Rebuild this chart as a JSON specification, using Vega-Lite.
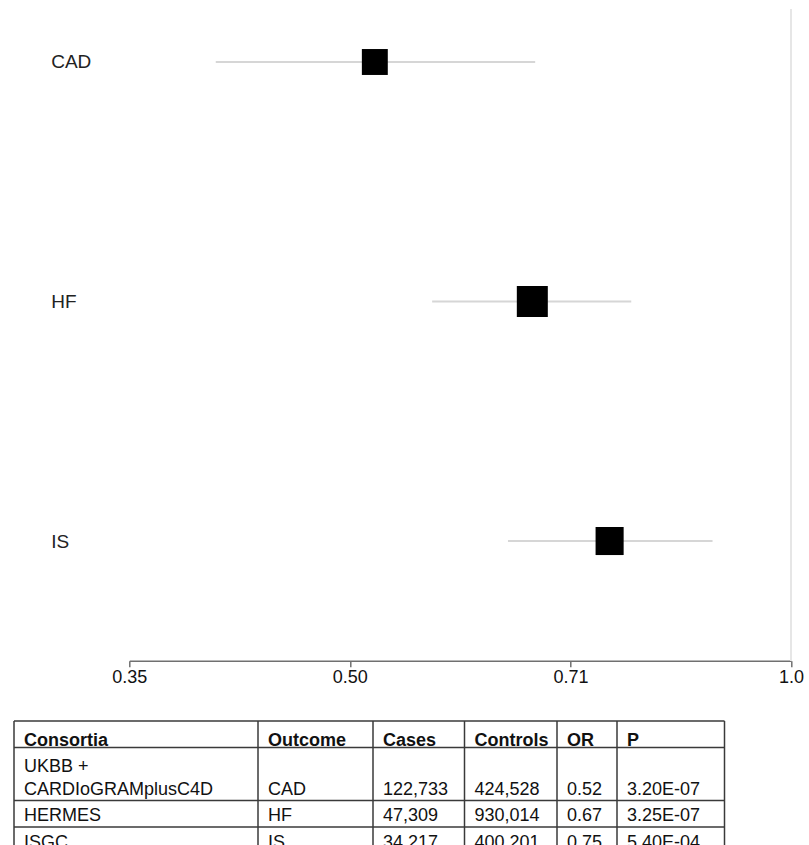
{
  "$schema": "https://vega.github.io/schema/vega-lite/v6.json",
  "width": 661.7,
  "height": 651.7,
  "autosize": {"type": "none"},
  "padding": {"left": 129.3, "top": 9, "right": 18, "bottom": 184.3},
  "background": "white",
  "config": {"view": {"stroke": null}, "font": "Liberation Sans", "text": {"font": "Liberation Sans"}},
  "datasets": {
    "results": [
      {"Outcome": "CAD", "OR": 0.520, "lo": 0.405, "hi": 0.669, "weight": 0.70},
      {"Outcome": "HF", "OR": 0.666, "lo": 0.569, "hi": 0.778, "weight": 1.0},
      {"Outcome": "IS", "OR": 0.752, "lo": 0.641, "hi": 0.884, "weight": 0.82}
    ],
    "table": [
      {"Consortia": "UKBB +\nCARDIoGRAMplusC4D", "Outcome": "CAD", "Cases": "122,733", "Controls": "424,528", "OR": "0.52", "P": "3.20E-07"},
      {"Consortia": "HERMES", "Outcome": "HF", "Cases": "47,309", "Controls": "930,014", "OR": "0.67", "P": "3.25E-07"},
      {"Consortia": "ISGC", "Outcome": "IS", "Cases": "34,217", "Controls": "400,201", "OR": "0.75", "P": "5.40E-04"}
    ],
    "columns": [
      {"column": "Consortia", "order": 0},
      {"column": "Outcome", "order": 1},
      {"column": "Cases", "order": 2},
      {"column": "Controls", "order": 3},
      {"column": "OR", "order": 4},
      {"column": "P", "order": 5},
      {"column": "", "order": 6}
    ],
    "rowlines": [{"row": "top"}, {"row": "header"}, {"row": "CAD"}, {"row": "HF"}, {"row": "IS"}]
  },
  "resolve": {"scale": {"x": "independent", "y": "independent"}, "axis": {"x": "independent", "y": "independent"}},
  "layer": [
    {
      "data": {"name": "results"},
      "layer": [
        {
          "mark": {"type": "rule", "color": "#e6e6e6", "strokeWidth": 2},
          "encoding": {
            "x": {
              "datum": 1, "type": "quantitative", "title": null,
              "scale": {"type": "log", "domain": [0.353553, 1], "nice": false, "zero": false},
              "axis": {
                "title": null, "values": [0.353553, 0.5, 0.707107, 1],
                "labelExpr": "datum.value > 0.99 ? '1.0' : format(datum.value, '.2f')",
                "domainColor": "#707070", "domainWidth": 1.5,
                "tickColor": "#707070", "tickWidth": 1.5, "tickSize": 6,
                "labelFontSize": 18, "labelColor": "#111111", "labelFont": "Liberation Sans",
                "labelPadding": 2, "grid": false, "labelFlush": false, "labelOverlap": false
              }
            }
          }
        },
        {
          "mark": {"type": "rule", "color": "#d6d6d6", "strokeWidth": 2},
          "encoding": {
            "x": {"field": "lo", "type": "quantitative", "title": null},
            "x2": {"field": "hi"},
            "y": {
              "field": "Outcome", "type": "nominal", "title": null,
              "scale": {"type": "point", "domain": ["CAD", "HF", "IS"], "padding": 0.3605, "align": 0.3069},
              "axis": {
                "title": null, "domain": false, "ticks": false, "tickSize": 0, "grid": false,
                "labelAlign": "left", "labelBaseline": "middle", "labelPadding": 78.6,
                "labelFontSize": 19, "labelColor": "#222222", "labelFont": "Liberation Sans"
              }
            }
          }
        },
        {
          "mark": {"type": "square", "filled": true, "color": "#000000", "opacity": 1},
          "encoding": {
            "x": {"field": "OR", "type": "quantitative", "title": null},
            "y": {"field": "Outcome", "type": "nominal", "title": null},
            "size": {"field": "weight", "type": "quantitative", "scale": {"domain": [0, 1], "range": [0, 961]}, "legend": null}
          }
        }
      ]
    },
    {
      "layer": [
        {
          "data": {"name": "columns"},
          "transform": [{"filter": "datum.order < 6"}],
          "mark": {"type": "text", "align": "left", "baseline": "bottom", "dx": 10, "dy": 2, "fontSize": 18, "fontWeight": "bold", "color": "#111111"},
          "encoding": {
            "x": {
              "field": "order", "type": "quantitative",
              "scale": {"type": "linear", "domain": [0, 1, 2, 3, 4, 5, 6], "range": [-115.3, 128.7, 243.7, 335.2, 427.7, 487.7, 595.2], "nice": false, "zero": false},
              "axis": null
            },
            "y": {
              "datum": "header", "type": "nominal",
              "scale": {"type": "point", "domain": ["top", "header", "UKBB", "CAD", "HF", "IS"], "range": [712, 844.5], "padding": 0},
              "axis": null
            },
            "text": {"field": "column"}
          }
        },
        {
          "data": {"name": "table"},
          "transform": [
            {"fold": ["Consortia", "Outcome", "Cases", "Controls", "OR", "P"], "as": ["column", "value"]},
            {"lookup": "column", "from": {"data": {"name": "columns"}, "key": "column", "fields": ["order"]}},
            {"filter": "indexof(datum.value, '\\n') < 0"}
          ],
          "mark": {"type": "text", "align": "left", "baseline": "bottom", "dx": 10, "dy": -2, "fontSize": 18, "color": "#111111"},
          "encoding": {
            "x": {"field": "order", "type": "quantitative", "axis": null},
            "y": {"field": "Outcome", "type": "nominal", "axis": null},
            "text": {"field": "value"}
          }
        },
        {
          "data": {"name": "table"},
          "transform": [
            {"fold": ["Consortia", "Outcome", "Cases", "Controls", "OR", "P"], "as": ["column", "value"]},
            {"lookup": "column", "from": {"data": {"name": "columns"}, "key": "column", "fields": ["order"]}},
            {"filter": "indexof(datum.value, '\\n') >= 0"}
          ],
          "mark": {"type": "text", "align": "left", "baseline": "bottom", "dx": 10, "dy": -25, "fontSize": 18, "lineBreak": "\n", "lineHeight": 23, "color": "#111111"},
          "encoding": {
            "x": {"field": "order", "type": "quantitative", "axis": null},
            "y": {"field": "Outcome", "type": "nominal", "axis": null},
            "text": {"field": "value"}
          }
        },
        {
          "data": {"name": "columns"},
          "mark": {"type": "rule", "color": "#3a3a3a", "strokeWidth": 1.5},
          "encoding": {
            "x": {"field": "order", "type": "quantitative", "axis": null},
            "y": {"datum": "top", "type": "nominal", "axis": null},
            "y2": {"datum": "IS"}
          }
        },
        {
          "data": {"name": "rowlines"},
          "mark": {"type": "rule", "color": "#3a3a3a", "strokeWidth": 1.5},
          "encoding": {
            "y": {"field": "row", "type": "nominal", "axis": null},
            "x": {"datum": 0, "type": "quantitative", "axis": null},
            "x2": {"datum": 6}
          }
        }
      ]
    }
  ]
}
